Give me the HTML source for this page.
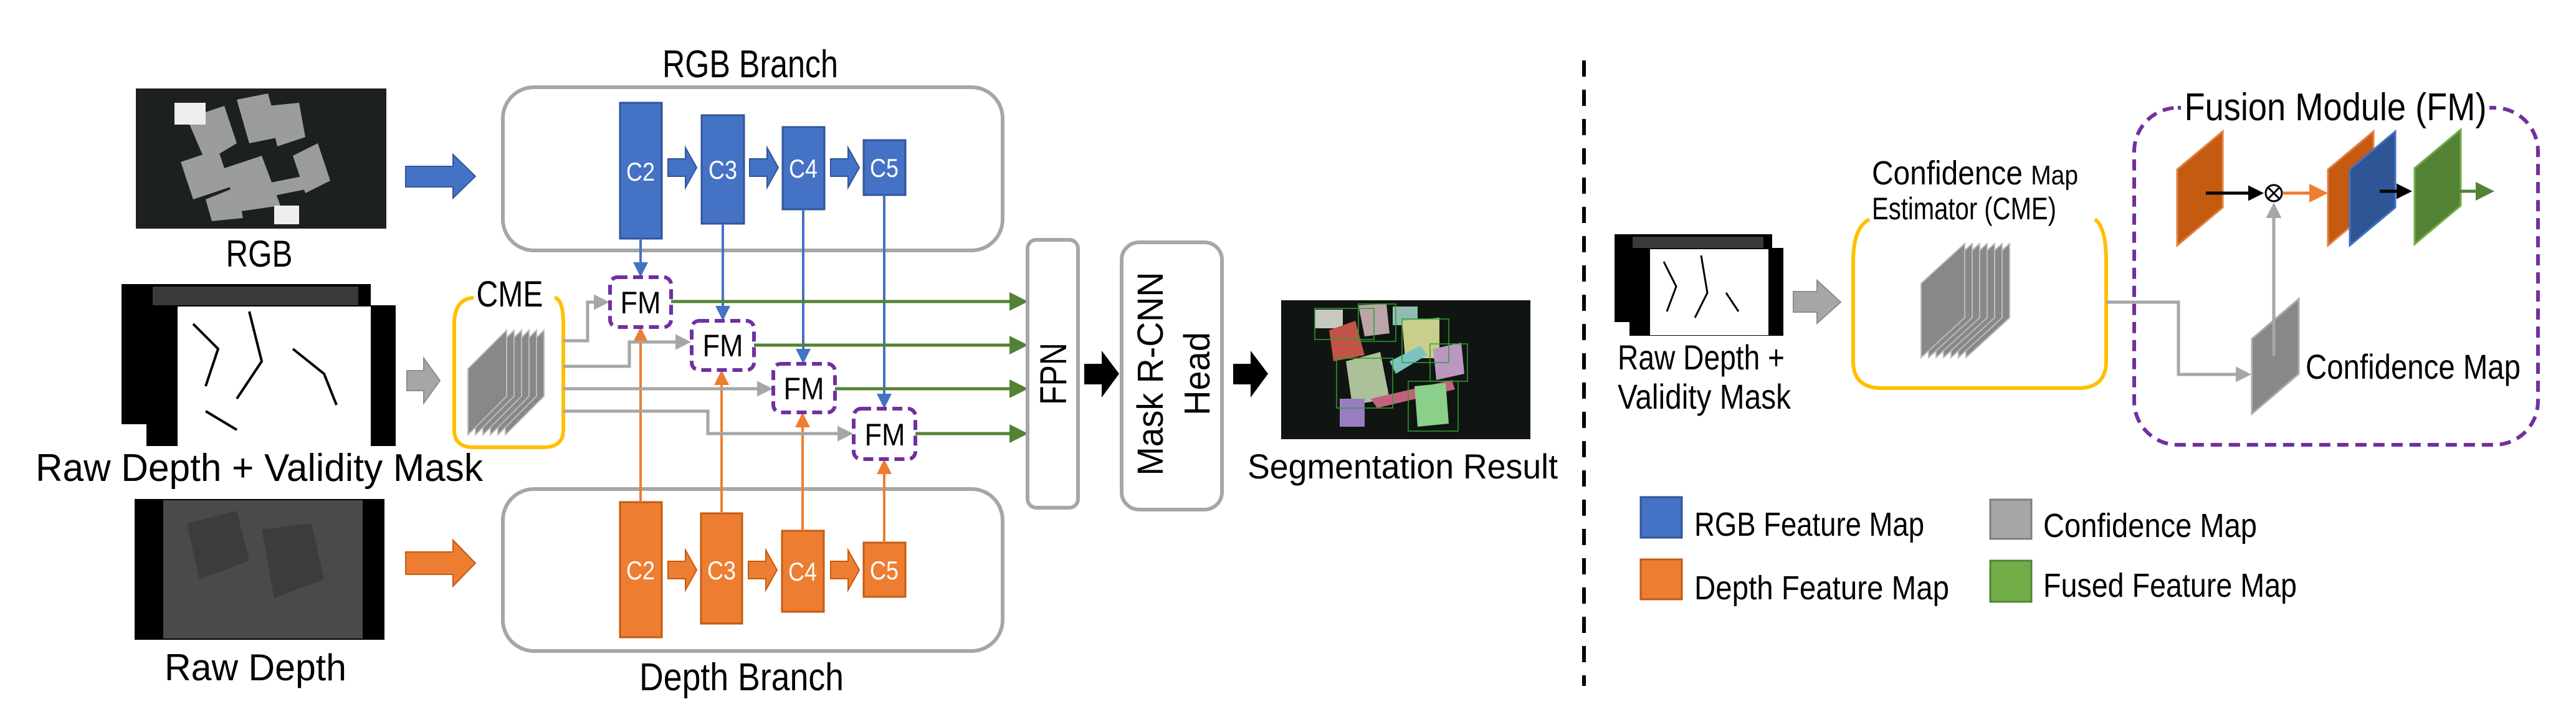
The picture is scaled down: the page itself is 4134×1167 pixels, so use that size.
<!DOCTYPE html>
<html><head><meta charset="utf-8"><style>
html,body{margin:0;padding:0;background:#fff;}
svg{display:block;}
text{font-family:"Liberation Sans Narrow","Liberation Sans",sans-serif;fill:#000;}
</style></head><body>
<svg width="4134" height="1167" viewBox="0 0 4134 1167" xmlns="http://www.w3.org/2000/svg">
<defs>
<marker id="mb" markerWidth="6" markerHeight="6" refX="5" refY="3" orient="auto" markerUnits="strokeWidth"><path d="M0,0 L6,3 L0,6 z" fill="#4472c4"/></marker>
<marker id="mo" markerWidth="6" markerHeight="6" refX="5" refY="3" orient="auto" markerUnits="strokeWidth"><path d="M0,0 L6,3 L0,6 z" fill="#ed7d31"/></marker>
<marker id="mg" markerWidth="6" markerHeight="6" refX="5" refY="3" orient="auto" markerUnits="strokeWidth"><path d="M0,0 L6,3 L0,6 z" fill="#548235"/></marker>
<marker id="my" markerWidth="5" markerHeight="5" refX="4" refY="2.5" orient="auto" markerUnits="strokeWidth"><path d="M0,0 L5,2.5 L0,5 z" fill="#a6a6a6"/></marker>
<marker id="mk" markerWidth="5" markerHeight="5" refX="4" refY="2.5" orient="auto" markerUnits="strokeWidth"><path d="M0,0 L5,2.5 L0,5 z" fill="#000"/></marker>
</defs>

<!-- LEFT IMAGES -->
<rect x="218" y="142" width="402" height="225" fill="#1c211e"/>
<g fill="#a9aba8" opacity="0.9">
<polygon points="300,190 360,170 380,230 330,260"/><polygon points="380,160 430,150 450,220 400,230"/><polygon points="430,170 480,165 490,220 445,235"/>
<polygon points="290,260 350,240 370,300 310,320"/><polygon points="360,270 420,250 450,330 380,340"/><polygon points="470,250 510,230 530,290 490,310"/>
<polygon points="400,300 500,280 510,300 410,320"/><polygon points="330,320 380,300 390,350 340,355"/>
</g>
<rect x="280" y="165" width="50" height="35" fill="#eee"/><rect x="440" y="330" width="40" height="30" fill="#eee"/>
<text x="416" y="428" font-size="60" text-anchor="middle" textLength="107" lengthAdjust="spacingAndGlyphs">RGB</text>

<rect x="195" y="456" width="400" height="225" fill="#000"/>
<rect x="245" y="460" width="330" height="30" fill="#3a3a3a"/>
<rect x="235" y="490" width="400" height="226" fill="#000"/>
<rect x="285" y="492" width="310" height="224" fill="#fff"/>
<g stroke="#000" stroke-width="4" fill="none"><path d="M310,520 L350,560 L330,620"/><path d="M400,500 L420,580 L380,640"/><path d="M470,560 L520,600 L540,650"/><path d="M330,660 L380,690"/></g>
<text x="416" y="772" font-size="62" text-anchor="middle" textLength="718" lengthAdjust="spacingAndGlyphs">Raw Depth + Validity Mask</text>

<rect x="216" y="801" width="401" height="226" fill="#000"/>
<rect x="262" y="803" width="320" height="222" fill="#4a4a4a"/>
<g fill="#3c3c3c"><polygon points="300,840 380,820 400,900 320,930"/><polygon points="420,850 500,840 520,930 440,960"/></g>
<text x="410" y="1092" font-size="60" text-anchor="middle" textLength="292" lengthAdjust="spacingAndGlyphs">Raw Depth</text>

<!-- big arrows -->
<polygon points="651,267 727,267 727,248 763,283 727,318 727,300 651,300" fill="#4472c4" stroke="#2f5597" stroke-width="2"/>
<polygon points="653,595 680,595 680,575 706,611 680,647 680,627 653,627" fill="#a6a6a6" stroke="#8c8c8c" stroke-width="2"/>
<polygon points="651,886 727,886 727,867 763,904 727,941 727,922 651,922" fill="#ed7d31" stroke="#c55a11" stroke-width="2"/>

<!-- Branch boxes -->
<rect x="807" y="140" width="802" height="262" rx="50" fill="none" stroke="#a6a6a6" stroke-width="6"/>
<rect x="807" y="785" width="802" height="260" rx="50" fill="none" stroke="#a6a6a6" stroke-width="6"/>
<text x="1204" y="124" font-size="62" text-anchor="middle" textLength="282" lengthAdjust="spacingAndGlyphs">RGB Branch</text>
<text x="1190" y="1108" font-size="62" text-anchor="middle" textLength="328" lengthAdjust="spacingAndGlyphs">Depth Branch</text>

<!-- CME -->
<path d="M760,478 Q729,480 729,520 L729,690 Q729,718 760,718 L872,718 Q904,718 904,690 L904,520 Q904,480 890,478" fill="none" stroke="#ffc000" stroke-width="6"/>
<text x="818" y="492" font-size="58" text-anchor="middle" textLength="107" lengthAdjust="spacingAndGlyphs">CME</text>
<g fill="#888" stroke="#bbb" stroke-width="2">
<polygon points="811,698 811,592 873,530 873,636"/><polygon points="799,698 799,592 861,530 861,636"/><polygon points="787,698 787,592 849,530 849,636"/><polygon points="775,698 775,592 837,530 837,636"/><polygon points="763,698 763,592 825,530 825,636"/><polygon points="751,698 751,592 813,530 813,636"/>
</g>

<!-- C blocks -->
<g fill="#4472c4" stroke="#2f5597" stroke-width="3">
<rect x="995" y="165" width="67" height="218"/><rect x="1126" y="185" width="68" height="174"/><rect x="1256" y="204" width="67" height="132"/><rect x="1386" y="225" width="67" height="88"/>
</g>
<g fill="#ed7d31" stroke="#c55a11" stroke-width="3">
<rect x="995" y="806" width="67" height="217"/><rect x="1125" y="824" width="66" height="177"/><rect x="1255" y="852" width="67" height="130"/><rect x="1386" y="871" width="67" height="87"/>
</g>
<g font-size="42" text-anchor="middle">
<text x="1028" y="290" style="fill:#fff" textLength="46" lengthAdjust="spacingAndGlyphs">C2</text><text x="1160" y="287" style="fill:#fff" textLength="46" lengthAdjust="spacingAndGlyphs">C3</text><text x="1289" y="285" style="fill:#fff" textLength="46" lengthAdjust="spacingAndGlyphs">C4</text><text x="1419" y="284" style="fill:#fff" textLength="46" lengthAdjust="spacingAndGlyphs">C5</text>
<text x="1028" y="930" style="fill:#fff" textLength="46" lengthAdjust="spacingAndGlyphs">C2</text><text x="1158" y="930" style="fill:#fff" textLength="46" lengthAdjust="spacingAndGlyphs">C3</text><text x="1288" y="932" style="fill:#fff" textLength="46" lengthAdjust="spacingAndGlyphs">C4</text><text x="1419" y="930" style="fill:#fff" textLength="46" lengthAdjust="spacingAndGlyphs">C5</text>
</g>
<!-- chain arrows -->
<g fill="#4472c4" stroke="#2f5597" stroke-width="2">
<polygon points="1072,255 1100,255 1100,237 1118,269 1100,301 1100,283 1072,283"/>
<polygon points="1203,255 1231,255 1231,237 1249,269 1231,301 1231,283 1203,283"/>
<polygon points="1333,255 1361,255 1361,237 1379,269 1361,301 1361,283 1333,283"/>
</g>
<g fill="#ed7d31" stroke="#c55a11" stroke-width="2">
<polygon points="1072,901 1100,901 1100,883 1118,915 1100,947 1100,929 1072,929"/>
<polygon points="1201,901 1229,901 1229,883 1247,915 1229,947 1229,929 1201,929"/>
<polygon points="1333,901 1361,901 1361,883 1379,915 1361,947 1361,929 1333,929"/>
</g>

<!-- vertical connectors -->
<g stroke="#4472c4" stroke-width="4" fill="none">
<line x1="1028" y1="383" x2="1028" y2="441" marker-end="url(#mb)"/>
<line x1="1160" y1="359" x2="1160" y2="511" marker-end="url(#mb)"/>
<line x1="1289" y1="336" x2="1289" y2="580" marker-end="url(#mb)"/>
<line x1="1419" y1="313" x2="1419" y2="652" marker-end="url(#mb)"/>
</g>
<g stroke="#ed7d31" stroke-width="4" fill="none">
<line x1="1028" y1="806" x2="1028" y2="529" marker-end="url(#mo)"/>
<line x1="1158" y1="824" x2="1158" y2="598" marker-end="url(#mo)"/>
<line x1="1288" y1="852" x2="1288" y2="666" marker-end="url(#mo)"/>
<line x1="1419" y1="871" x2="1419" y2="741" marker-end="url(#mo)"/>
</g>
<g stroke="#a6a6a6" stroke-width="5" fill="none">
<polyline points="904,547 943,547 943,485 973,485" marker-end="url(#my)"/>
<polyline points="904,588 1010,588 1010,549 1104,549" marker-end="url(#my)"/>
<polyline points="904,624 1235,624" marker-end="url(#my)"/>
<polyline points="904,660 1136,660 1136,696 1364,696" marker-end="url(#my)"/>
</g>
<g stroke="#548235" stroke-width="5" fill="none">
<line x1="1077" y1="484" x2="1645" y2="484" marker-end="url(#mg)"/>
<line x1="1210" y1="554" x2="1645" y2="554" marker-end="url(#mg)"/>
<line x1="1340" y1="624" x2="1645" y2="624" marker-end="url(#mg)"/>
<line x1="1469" y1="696" x2="1645" y2="696" marker-end="url(#mg)"/>
</g>
<g fill="#fff" stroke="#7030a0" stroke-width="6" stroke-dasharray="16 9">
<rect x="979" y="445" width="98" height="80" rx="12"/><rect x="1110" y="515" width="100" height="79" rx="12"/><rect x="1241" y="584" width="99" height="78" rx="12"/><rect x="1370" y="656" width="99" height="81" rx="12"/>
</g>
<g font-size="50" text-anchor="middle">
<text x="1028" y="503" textLength="65" lengthAdjust="spacingAndGlyphs">FM</text><text x="1160" y="572" textLength="65" lengthAdjust="spacingAndGlyphs">FM</text><text x="1290" y="641" textLength="65" lengthAdjust="spacingAndGlyphs">FM</text><text x="1420" y="715" textLength="65" lengthAdjust="spacingAndGlyphs">FM</text>
</g>

<!-- FPN & Mask -->
<rect x="1649" y="385" width="81" height="430" rx="14" fill="#fff" stroke="#a6a6a6" stroke-width="6"/>
<text transform="translate(1711,600) rotate(-90)" font-size="60" text-anchor="middle" textLength="100" lengthAdjust="spacingAndGlyphs" style="font-family:'Liberation Sans',sans-serif">FPN</text>
<rect x="1800" y="389" width="161" height="429" rx="28" fill="#fff" stroke="#a6a6a6" stroke-width="6"/>
<text transform="translate(1866,600) rotate(-90)" font-size="58" text-anchor="middle" textLength="327" lengthAdjust="spacingAndGlyphs" style="font-family:'Liberation Sans',sans-serif">Mask R-CNN</text>
<text transform="translate(1941,600) rotate(-90)" font-size="58" text-anchor="middle" textLength="134" lengthAdjust="spacingAndGlyphs" style="font-family:'Liberation Sans',sans-serif">Head</text>
<polygon points="1740,584 1768,584 1768,563 1796,600 1768,638 1768,617 1740,617" fill="#000"/>
<polygon points="1979,584 2007,584 2007,563 2035,600 2007,638 2007,617 1979,617" fill="#000"/>

<!-- Seg result -->
<rect x="2056" y="482" width="400" height="223" fill="#101512"/>
<g opacity="0.85">
<rect x="2110" y="497" width="45" height="30" fill="#e8e8e0"/><polygon points="2180,490 2225,488 2230,535 2190,540" fill="#d8c0c0"/><rect x="2235" y="492" width="40" height="30" fill="#a8d8d0"/>
<polygon points="2133,530 2175,515 2190,570 2140,580" fill="#e06050"/><polygon points="2250,515 2310,510 2310,575 2255,575" fill="#e8f0a0"/>
<polygon points="2160,580 2215,565 2230,640 2170,650" fill="#c8e0b0"/><polygon points="2300,560 2345,550 2350,600 2305,610" fill="#d8b0e0"/>
<polygon points="2200,640 2330,610 2335,625 2210,655" fill="#e07090"/><rect x="2150" y="640" width="40" height="45" fill="#b090e0"/>
<polygon points="2270,620 2320,615 2325,680 2275,685" fill="#a0f0a0"/><polygon points="2230,580 2280,555 2290,570 2240,600" fill="#90e0e0"/>
</g>
<g fill="none" stroke="#2ea02e" stroke-width="1.5"><rect x="2110" y="495" width="95" height="50"/><rect x="2180" y="488" width="60" height="60"/><rect x="2250" y="512" width="75" height="70"/><rect x="2145" y="575" width="90" height="80"/><rect x="2260" y="612" width="80" height="80"/><rect x="2295" y="552" width="60" height="60"/></g>
<text x="2251" y="768" font-size="56" text-anchor="middle" textLength="498" lengthAdjust="spacingAndGlyphs" style="font-family:'Liberation Sans',sans-serif">Segmentation Result</text>

<line x1="2542" y1="97" x2="2542" y2="1101" stroke="#000" stroke-width="6" stroke-dasharray="26 21"/>

<!-- RIGHT SIDE -->
<rect x="2591" y="376" width="253" height="141" fill="#000"/>
<rect x="2620" y="380" width="210" height="20" fill="#3a3a3a"/>
<rect x="2615" y="398" width="247" height="141" fill="#000"/>
<rect x="2648" y="400" width="190" height="138" fill="#fff"/>
<g stroke="#000" stroke-width="3" fill="none"><path d="M2670,420 L2690,460 L2675,500"/><path d="M2730,410 L2740,470 L2720,510"/><path d="M2770,470 L2790,500"/></g>
<text x="2596" y="593" font-size="56" textLength="268" lengthAdjust="spacingAndGlyphs">Raw Depth +</text>
<text x="2596" y="656" font-size="56" textLength="278" lengthAdjust="spacingAndGlyphs">Validity Mask</text>
<polygon points="2878,468 2916,468 2916,450 2954,485 2916,519 2916,501 2878,501" fill="#a6a6a6" stroke="#8c8c8c" stroke-width="2"/>

<path d="M3000,352 Q2974,365 2974,420 L2974,580 Q2974,623 3020,623 L3335,623 Q3380,623 3380,580 L3380,420 Q3380,365 3362,352" fill="none" stroke="#ffc000" stroke-width="6"/>
<text x="3004" y="296" font-size="54" textLength="331" lengthAdjust="spacingAndGlyphs">Confidence <tspan font-size="44">Map</tspan></text>
<text x="3004" y="352" font-size="50" textLength="296" lengthAdjust="spacingAndGlyphs">Estimator (CME)</text>
<g fill="#888" stroke="#bbb" stroke-width="2">
<polygon points="3155,574 3155,455 3225,391 3225,510"/><polygon points="3143,574 3143,455 3213,391 3213,510"/><polygon points="3131,574 3131,455 3201,391 3201,510"/><polygon points="3119,574 3119,455 3189,391 3189,510"/><polygon points="3107,574 3107,455 3177,391 3177,510"/><polygon points="3095,574 3095,455 3165,391 3165,510"/><polygon points="3083,574 3083,455 3153,391 3153,510"/>
</g>

<rect x="3425" y="173" width="648" height="541" rx="70" fill="none" stroke="#7030a0" stroke-width="6" stroke-dasharray="18 11"/>
<rect x="3500" y="140" width="495" height="60" fill="#fff"/>
<text x="3748" y="193" font-size="62" text-anchor="middle" textLength="485" lengthAdjust="spacingAndGlyphs">Fusion Module (FM)</text>

<polyline points="3380,485 3496,485 3496,601 3608,601" fill="none" stroke="#a6a6a6" stroke-width="5" marker-end="url(#my)"/>
<polygon points="3614,544 3689,480 3689,600 3614,664" fill="#888" stroke="#aaa" stroke-width="3"/>
<line x1="3649" y1="572" x2="3649" y2="330" stroke="#a6a6a6" stroke-width="5" marker-end="url(#my)"/>
<text x="3700" y="608" font-size="56" textLength="345" lengthAdjust="spacingAndGlyphs">Confidence Map</text>

<polygon points="3494,272 3567,211 3567,333 3494,394" fill="#c55a11" stroke="#e08040" stroke-width="3"/>
<line x1="3540" y1="310" x2="3628" y2="310" stroke="#000" stroke-width="5" marker-end="url(#mk)"/>
<circle cx="3649" cy="310" r="13" fill="#fff" stroke="#000" stroke-width="3"/>
<path d="M3640,301 L3658,319 M3658,301 L3640,319" stroke="#000" stroke-width="3"/>
<line x1="3663" y1="310" x2="3731" y2="310" stroke="#ed7d31" stroke-width="5" marker-end="url(#mo)"/>
<polygon points="3736,272 3809,211 3809,333 3736,394" fill="#c55a11" stroke="#e08040" stroke-width="3"/>
<polygon points="3771,272 3844,211 3844,333 3771,394" fill="#2f5597" stroke="#4472c4" stroke-width="3"/>
<line x1="3819" y1="307" x2="3866" y2="307" stroke="#000" stroke-width="5" marker-end="url(#mk)"/>
<polygon points="3875,270 3949,208 3949,330 3875,392" fill="#548235" stroke="#70ad47" stroke-width="3"/>
<line x1="3915" y1="307" x2="3998" y2="307" stroke="#548235" stroke-width="5" marker-end="url(#mg)"/>

<rect x="2633" y="798" width="66" height="65" fill="#4472c4" stroke="#2f5597" stroke-width="3"/>
<text x="2719" y="860" font-size="54" textLength="369" lengthAdjust="spacingAndGlyphs">RGB Feature Map</text>
<rect x="2633" y="898" width="66" height="64" fill="#ed7d31" stroke="#c55a11" stroke-width="3"/>
<text x="2719" y="962" font-size="54" textLength="409" lengthAdjust="spacingAndGlyphs">Depth Feature Map</text>
<rect x="3194" y="802" width="66" height="63" fill="#a6a6a6" stroke="#7f7f7f" stroke-width="3"/>
<text x="3279" y="862" font-size="54" textLength="343" lengthAdjust="spacingAndGlyphs">Confidence Map</text>
<rect x="3194" y="900" width="66" height="66" fill="#70ad47" stroke="#548235" stroke-width="3"/>
<text x="3279" y="958" font-size="54" textLength="407" lengthAdjust="spacingAndGlyphs">Fused Feature Map</text>
</svg>
</body></html>
